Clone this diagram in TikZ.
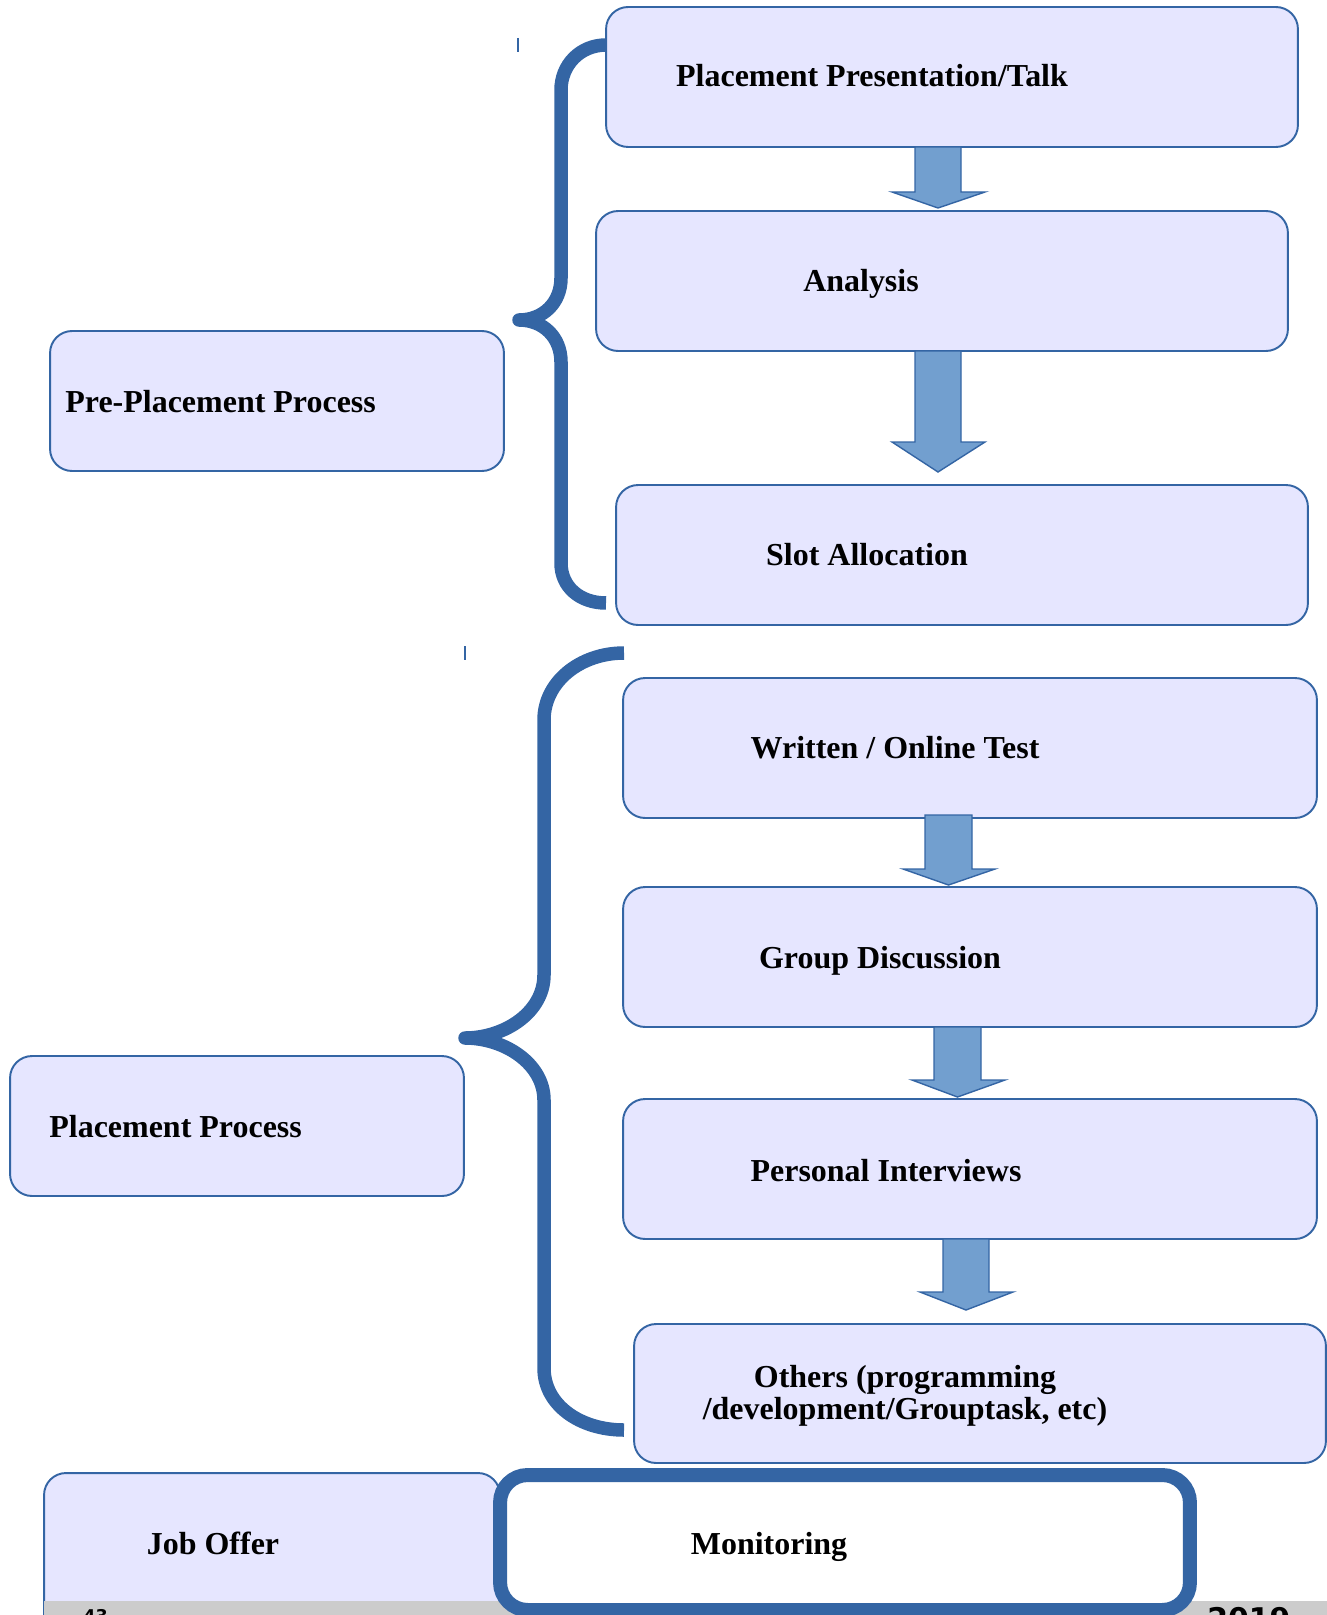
\documentclass[tikz,border=0pt]{standalone}
\usepackage{fontspec}
\setmainfont{Liberation Serif}
\newfontfamily\footfont{DejaVu Sans}
\definecolor{bord}{HTML}{3465A4}
\definecolor{lav}{HTML}{E6E6FF}
\definecolor{arrfill}{HTML}{729FCF}
\definecolor{strip}{HTML}{CCCCCC}
\begin{document}
\begin{tikzpicture}[x=0.02cm,y=-0.02cm,
  box/.style={draw=bord, fill=lav, line width=1.1pt, rounded corners=0.44cm, minimum width=13.84cm, minimum height=2.8cm, inner sep=0pt},
  sidebox/.style={box, minimum width=9.08cm},
  monbox/.style={draw=bord, fill=white, line width=0.28cm, rounded corners=0.55cm, minimum width=13.8cm, minimum height=2.7cm, inner sep=0pt},
  lbl/.style={font=\bfseries\fontsize{18.2}{18.1}\selectfont, inner sep=0pt, anchor=base},
  blockarrow/.style={draw=bord, fill=arrfill, line width=0.8pt, line join=miter},
  brace/.style={draw=bord, line width=0.27cm, line join=round, line cap=butt},
  tick/.style={draw=bord, line width=0.8pt}
]
\useasboundingbox (0,0) rectangle (1327,1615);
\clip (0,0) rectangle (1327,1615);

% stray ticks
\draw[tick] (518,38) -- (518,52);
\draw[tick] (465,646) -- (465,660);

% pre-placement group
\node[box] (b1) at (952,77) {};
\node[box] (b2) at (942,281) {};
\node[box] (b3) at (962,555) {};
\node[sidebox] (pre) at (277,401) {};

\node[lbl] (t1) at (872,87) {Placement Presentation/Talk};
\node[lbl] (t2) at (861,291) {Analysis};
\node[lbl] (t3) at (867,565) {Slot Allocation};
\node[lbl, anchor=base west] (tpre) at (65,412) {Pre-Placement Process};

\draw[blockarrow] (915,147) -- (961,147) -- (961,192) -- (985,192) -- (938,208) -- (892,192) -- (915,192) -- cycle;
\draw[blockarrow] (915,351) -- (961,351) -- (961,442) -- (985,442) -- (938,472) -- (892,442) -- (915,442) -- cycle;

\draw[brace] (606,45) .. controls (580,45) and (561,65) .. (561,90) -- (561,278)
  .. controls (561,303) and (543,320) .. (519,320)
  .. controls (543,320) and (561,337) .. (561,362) -- (561,563)
  .. controls (561,587) and (580,603) .. (606,603);

% placement group
\node[box, minimum width=13.88cm] (b4) at (970,748) {};
\node[box, minimum width=13.88cm] (b5) at (970,957) {};
\node[box, minimum width=13.88cm] (b6) at (970,1169) {};
\node[box, minimum height=2.78cm] (b7) at (980,1393.5) {};
\node[sidebox] (pp) at (237,1126) {};

\draw[blockarrow] (925,815) -- (972,815) -- (972,869) -- (995,869) -- (948.5,885) -- (903,869) -- (925,869) -- cycle;
\draw[blockarrow] (934,1027) -- (981,1027) -- (981,1080) -- (1005,1080) -- (957.5,1097) -- (912,1080) -- (934,1080) -- cycle;
\draw[blockarrow] (943,1239) -- (989,1239) -- (989,1292) -- (1013,1292) -- (966,1310) -- (920,1292) -- (943,1292) -- cycle;

\node[lbl] (t4) at (895,758) {Written / Online Test};
\node[lbl] (t5) at (880,968) {Group Discussion};
\node[lbl] (t6) at (886,1181) {Personal Interviews};
\node[lbl, anchor=center, align=center] (t7) at (905,1396) {Others (programming\\ /development/Grouptask, etc)};
\node[lbl, anchor=base west] (tpp) at (49,1137) {Placement Process};

\draw[brace] (624,653) .. controls (580,653) and (544,682) .. (544,720) -- (544,975)
  .. controls (544,1012) and (505,1038) .. (465,1038)
  .. controls (505,1038) and (544,1064) .. (544,1100) -- (544,1368)
  .. controls (544,1405) and (580,1430) .. (624,1430);

% bottom row
\node[sidebox, minimum width=9.12cm, minimum height=3.54cm] (job) at (272,1561.5) {};
\fill[strip] (44,1601) rectangle (1327,1615);
\node[font=\footfont\bfseries\fontsize{10}{12}\selectfont, inner sep=0pt, anchor=base west] (pg) at (83,1622) {43};
\node[font=\footfont\bfseries\fontsize{17}{20}\selectfont, inner sep=0pt, anchor=base west] (yr) at (1207,1629) {2019};
\node[monbox] (mon) at (845,1542.5) {};
\node[lbl] (tjob) at (213,1554) {Job Offer};
\node[lbl] (tmon) at (769,1554) {Monitoring};
\end{tikzpicture}
\end{document}
